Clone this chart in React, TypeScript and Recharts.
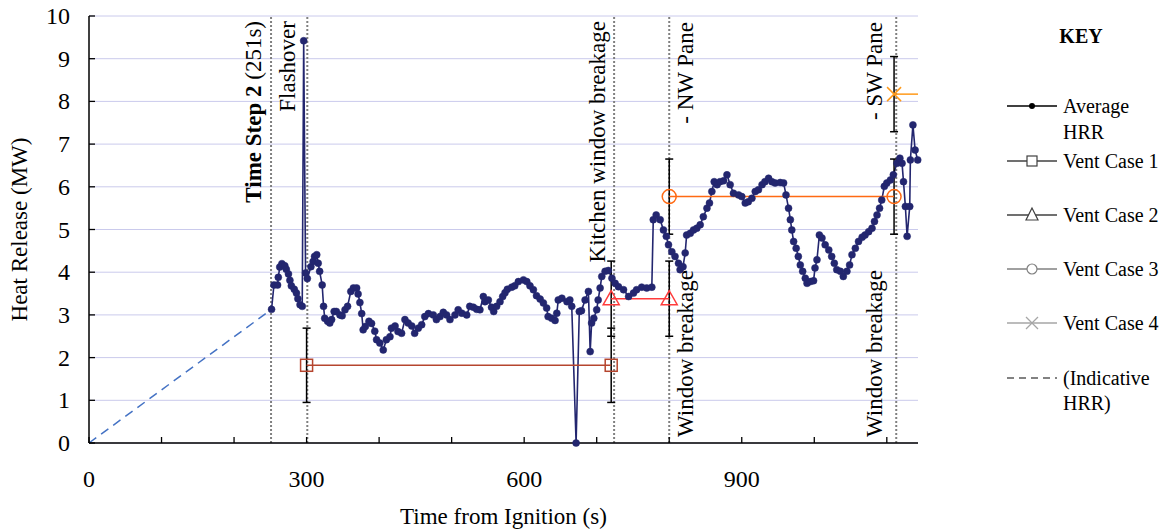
import React from 'react';
import {
  LineChart,
  Line,
  XAxis,
  YAxis,
  CartesianGrid,
  ReferenceLine,
  ErrorBar,
  Customized,
  Label,
} from 'recharts';

const FONT = "'Liberation Serif', 'Times New Roman', serif";
const NAVY = '#23266F';

// ---------- data ----------
const avgTime = [
  251.7, 255, 260, 261, 263, 266, 270, 272, 275, 277, 279, 283, 286, 288, 291, 294, 296, 298.6, 301,
  306, 309, 311, 314, 316, 318, 321.5, 323.4, 325, 329, 332, 334.5, 338, 341, 346, 349, 353, 356.5,
  361, 364.5, 369, 371, 373.5, 376, 378, 381, 386, 389.6, 394, 396.5, 401, 405.7, 410, 415, 417, 422,
  426, 431, 435.6, 440, 445, 449, 454, 458.7, 463, 468, 474.7, 479, 484, 488.5, 493, 497.7, 504.6,
  509, 514, 520.8, 525, 530, 534.6, 539, 543.7, 546, 550.6, 555, 558, 562, 566.7, 570.4, 573.6, 576.8,
  582.8, 587, 592, 599, 603.6, 608, 612.7, 617, 622, 626.5, 631, 633, 638, 642.6, 645, 647, 652, 659,
  663, 665.6, 671.6, 676, 679, 684, 688.6, 691, 693, 696, 700, 702, 704.7, 707, 711.6, 716, 721,
  725.4, 730, 737, 744, 750.7, 755, 762, 769, 776, 778, 782, 787.5, 792, 796, 799, 803.6, 808, 812.8,
  815, 819, 822, 824, 829, 833.5, 838, 842.7, 847, 852, 855.5, 858.8, 862, 866, 870, 875, 879.6, 884,
  888.6, 895.6, 900, 904.8, 909, 914, 918.6, 923, 928, 932, 937, 941.6, 946, 953, 957.7, 961, 964.5,
  967, 969, 971.5, 975, 978, 980.7, 984, 987.6, 990, 994.5, 999, 1001, 1003.7, 1007, 1010.6, 1015,
  1020, 1024, 1027.6, 1031, 1036, 1040, 1045, 1048.7, 1052, 1056.6, 1061, 1066, 1070, 1075, 1079.6,
  1083, 1086.5, 1090, 1093, 1096.6, 1100, 1105, 1109, 1114, 1118, 1121, 1123, 1125.6, 1128, 1131.6,
  1132.5, 1136, 1139, 1142.6,
];
const avgHRR = [
  3.13, 3.7, 3.7, 3.88, 4.12, 4.2, 4.15, 4.07, 3.96, 3.81, 3.68, 3.6, 3.51, 3.38, 3.24, 3.2, 9.42, 3.98, 3.85,
  4.13, 4.25, 4.37, 4.41, 4.21, 4.02, 3.7, 3.2, 2.92, 2.85, 2.81, 2.89, 3.08, 3.08, 3.0, 2.98, 3.12, 3.2,
  3.55, 3.63, 3.63, 3.49, 3.29, 3.03, 2.65, 2.73, 2.85, 2.8, 2.62, 2.42, 2.34, 2.18, 2.42, 2.49, 2.69, 2.74,
  2.61, 2.57, 2.89, 2.81, 2.74, 2.57, 2.69, 2.77, 2.96, 3.03, 3.0, 2.89, 2.96, 3.06, 3.0, 2.89, 3.0,
  3.12, 3.04, 3.0, 3.2, 3.18, 3.13, 3.12, 3.43, 3.31, 3.35, 3.18, 3.08, 3.2, 3.31, 3.43, 3.52, 3.6,
  3.65, 3.68, 3.78, 3.82, 3.78, 3.68, 3.59, 3.45, 3.37, 3.28, 3.16, 2.96, 2.92, 2.87, 3.04, 3.35, 3.39, 3.31,
  3.35, 3.2, 0, 3.08, 3.1, 3.35, 3.55, 2.14, 2.81, 2.92, 3.12, 3.35, 3.63, 3.9, 4.02, 4.04, 3.86,
  3.74, 3.66, 3.59, 3.43, 3.51, 3.59, 3.65, 3.63, 3.65, 5.23, 5.34, 5.23, 4.99, 4.84, 4.64, 4.48, 4.37, 4.21,
  4.06, 4.13, 4.45, 4.87, 4.91, 4.99, 5.03, 5.11, 5.3, 5.5, 5.62, 5.89, 6.12, 6.05, 6.12, 6.14, 6.28, 6.05,
  5.85, 5.81, 5.77, 5.62, 5.65, 5.73, 5.89, 5.93, 6.05, 6.12, 6.2, 6.12, 6.09, 6.1, 6.09, 5.81, 5.5,
  5.23, 4.99, 4.72, 4.56, 4.37, 4.17, 4.02, 3.86, 3.74, 3.78, 3.8, 4.1, 4.29, 4.87, 4.8, 4.64,
  4.52, 4.37, 4.21, 4.06, 4.02, 3.9, 4.02, 4.17, 4.41, 4.56, 4.72, 4.82, 4.87, 4.95, 5.03,
  5.19, 5.34, 5.5, 5.69, 6.01, 6.09, 6.16, 6.28, 6.55, 6.67, 6.55, 6.12, 5.54, 4.84, 5.54,
  6.63, 7.45, 6.86, 6.63,
];

const indicativeTime = [0, 251.7];
const indicativeHRR = [0, 3.13];

const vent1Time = [300, 720];
const vent1HRR = [1.82, 1.82];
const vent1Err = [0.87, 0.87];

const vent2Time = [720, 800];
const vent2HRR = [3.38, 3.38];
const vent2Err = [0.88, 0.88];

const vent3Time = [800, 1110];
const vent3HRR = [5.77, 5.77];
const vent3Err = [0.88, 0.88];

const vent4Time = [1110, 1143];
const vent4HRR = [8.17, 8.17];
const vent4Err = [0.88, null];

const X_MAX = 1143;
const xTicks = [0, 100, 200, 300, 400, 500, 600, 700, 800, 900, 1000, 1100];
const xLabelTicks = [0, 300, 600, 900];
const yTicks = [0, 1, 2, 3, 4, 5, 6, 7, 8, 9, 10];

const eventTimes = [251, 301, 724, 800, 1113];

// ---------- assembled series ----------
const avgData = avgTime.map((t, i) => ({ t, v: avgHRR[i] }));
const indicativeData = indicativeTime.map((t, i) => ({ t, v: indicativeHRR[i] }));
const vent1Data = vent1Time.map((t, i) => ({ t, v: vent1HRR[i], e: vent1Err[i] }));
const vent2Data = vent2Time.map((t, i) => ({ t, v: vent2HRR[i], e: vent2Err[i] }));
const vent3Data = vent3Time.map((t, i) => ({ t, v: vent3HRR[i], e: vent3Err[i] }));
const vent4Data = vent4Time.map((t, i) => ({ t, v: vent4HRR[i], e: vent4Err[i] }));

// ---------- colours ----------
const C1 = '#B5452E';
const C2 = '#FF3B3B';
const C3 = '#FF6A13';
const C4 = '#FF9A1A';

// ---------- markers ----------
const squareDot = (color: string) => (p: any) =>
  <rect key={`sq${p.index}`} x={p.cx - 6} y={p.cy - 6} width={12} height={12} fill="none" stroke={color} strokeWidth={1.5} />;
const triDot = (color: string) => (p: any) =>
  <polygon key={`tr${p.index}`} points={`${p.cx},${p.cy - 8} ${p.cx - 8},${p.cy + 6} ${p.cx + 8},${p.cy + 6}`} fill="none" stroke={color} strokeWidth={1.5} />;
const circDot = (color: string) => (p: any) =>
  <circle key={`ci${p.index}`} cx={p.cx} cy={p.cy} r={7} fill="none" stroke={color} strokeWidth={1.5} />;
const xDot = (color: string) => (p: any) =>
  p.index === 0 ? (
    <g key={`x${p.index}`}>
      <line x1={p.cx - 7} y1={p.cy - 7} x2={p.cx + 7} y2={p.cy + 7} stroke={color} strokeWidth={1.5} />
      <line x1={p.cx - 7} y1={p.cy + 7} x2={p.cx + 7} y2={p.cy - 7} stroke={color} strokeWidth={1.5} />
    </g>
  ) : (
    <g key={`x${p.index}`} />
  );

// ---------- ticks ----------
const XTick = (props: any) => {
  const { x, y, payload } = props;
  const show = xLabelTicks.includes(payload.value);
  return (
    <g>
      <line x1={x} x2={x} y1={y} y2={y - 6} stroke="#000" strokeWidth={1.3} />
      {show && (
        <text x={x} y={y + 36} textAnchor="middle" dominantBaseline="central" fontFamily={FONT} fontSize={24} fill="#000">
          {payload.value}
        </text>
      )}
    </g>
  );
};

const YTick = (props: any) => {
  const { x, y, payload } = props;
  return (
    <g>
      <line x1={x} x2={x + 6} y1={y} y2={y} stroke="#000" strokeWidth={1.3} />
      <text x={x - 19} y={y} textAnchor="end" dominantBaseline="central" fontFamily={FONT} fontSize={24} fill="#000">
        {payload.value}
      </text>
    </g>
  );
};

// ---------- event labels ----------
const topLabel = (text: React.ReactNode, dx: number) => (p: any) => {
  const vb = p.viewBox;
  return (
    <text
      transform={`translate(${vb.x + dx},${vb.y + 5}) rotate(-90)`}
      textAnchor="end"
      dominantBaseline="central"
      fontFamily={FONT}
      fontSize={23}
      fill="#000"
    >
      {text}
    </text>
  );
};
const twoLabels = (top: string, bottom: string, dx: number) => (p: any) => {
  const vb = p.viewBox;
  return (
    <g>
      <text
        transform={`translate(${vb.x + dx},${vb.y + 6}) rotate(-90)`}
        textAnchor="end"
        dominantBaseline="central"
        fontFamily={FONT}
        fontSize={23}
        fill="#000"
      >
        {top}
      </text>
      <text
        transform={`translate(${vb.x + dx},${vb.y + vb.height - 6}) rotate(-90)`}
        textAnchor="start"
        dominantBaseline="central"
        fontFamily={FONT}
        fontSize={23}
        fill="#000"
      >
        {bottom}
      </text>
    </g>
  );
};

// ---------- key ----------
const KeyLegend = () => {
  const lx1 = 1007;
  const lx2 = 1057;
  const mx = 1032;
  const tx = 1063;
  const txt = (x: number, y: number, s: string, bold = false) => (
    <text x={x} y={y} dominantBaseline="central" fontFamily={FONT} fontSize={20} fontWeight={bold ? 'bold' : 'normal'} fill="#000">
      {s}
    </text>
  );
  return (
    <g>
      <text x={1081} y={36} textAnchor="middle" dominantBaseline="central" fontFamily={FONT} fontSize={20} fontWeight="bold" fill="#000">
        KEY
      </text>
      <line x1={lx1} x2={lx2} y1={106} y2={106} stroke="#000" strokeWidth={1.3} />
      <circle cx={mx} cy={106} r={3} fill="#000" />
      {txt(tx, 106, 'Average')}
      {txt(tx, 132, 'HRR')}

      <line x1={lx1} x2={lx2} y1={161} y2={161} stroke="#404040" strokeWidth={1.3} />
      <rect x={mx - 5} y={156} width={10} height={10} fill="#fff" stroke="#404040" strokeWidth={1.2} />
      {txt(tx, 161, 'Vent Case 1')}

      <line x1={lx1} x2={lx2} y1={215} y2={215} stroke="#404040" strokeWidth={1.3} />
      <polygon points={`${mx},${208} ${mx - 6},${220} ${mx + 6},${220}`} fill="#fff" stroke="#404040" strokeWidth={1.2} />
      {txt(tx, 215, 'Vent Case 2')}

      <line x1={lx1} x2={lx2} y1={269} y2={269} stroke="#808080" strokeWidth={1.3} />
      <circle cx={mx} cy={269} r={5} fill="#fff" stroke="#808080" strokeWidth={1.2} />
      {txt(tx, 269, 'Vent Case 3')}

      <line x1={lx1} x2={lx2} y1={323} y2={323} stroke="#A6A6A6" strokeWidth={1.3} />
      <line x1={mx - 6} x2={mx + 6} y1={317} y2={329} stroke="#A6A6A6" strokeWidth={1.2} />
      <line x1={mx - 6} x2={mx + 6} y1={329} y2={317} stroke="#A6A6A6" strokeWidth={1.2} />
      {txt(tx, 323, 'Vent Case 4')}

      <line x1={lx1} x2={lx2} y1={378} y2={378} stroke="#595959" strokeWidth={1.3} strokeDasharray="7 5" />
      {txt(tx, 378, '(Indicative')}
      {txt(tx, 403, 'HRR)')}
    </g>
  );
};

export default function App() {
  return (
    <div style={{ position: 'absolute', left: 0, top: 0, width: 1169, height: 531, background: '#fff' }}>
      <LineChart width={1169} height={531} margin={{ top: 16, right: 251, left: 0, bottom: 0 }}>
        <CartesianGrid vertical={false} stroke="#CACAEC" strokeWidth={1} />
        <XAxis
          type="number"
          dataKey="t"
          domain={[0, X_MAX]}
          ticks={xTicks}
          allowDuplicatedCategory={false}
          height={88}
          tickSize={0}
          tickMargin={0}
          tickLine={false}
          tick={<XTick />}
          axisLine={{ stroke: '#000', strokeWidth: 1.5 }}
          interval={0}
        >
          <Label
            content={(p: any) => {
              const vb = p.viewBox;
              return (
                <text x={vb.x + vb.width / 2} y={vb.y + 73} textAnchor="middle" dominantBaseline="central" fontFamily={FONT} fontSize={23} fill="#000">
                  Time from Ignition (s)
                </text>
              );
            }}
          />
        </XAxis>
        <YAxis
          type="number"
          domain={[0, 10]}
          ticks={yTicks}
          width={89}
          tickSize={0}
          tickMargin={0}
          tickLine={false}
          tick={<YTick />}
          axisLine={{ stroke: '#000', strokeWidth: 1.5 }}
          interval={0}
        >
          <Label
            content={(p: any) => {
              const vb = p.viewBox;
              return (
                <text
                  transform={`translate(${vb.x + 19},${vb.y + vb.height / 2}) rotate(-90)`}
                  textAnchor="middle"
                  dominantBaseline="central"
                  fontFamily={FONT}
                  fontSize={23}
                  fill="#000"
                >
                  Heat Release (MW)
                </text>
              );
            }}
          />
        </YAxis>

        <ReferenceLine
          x={eventTimes[0]}
          stroke="#808080"
          strokeWidth={2}
          strokeDasharray="2 2"
          label={topLabel(
            <>
              <tspan fontWeight="bold">Time Step 2</tspan>
              <tspan>{'  (251s)'}</tspan>
            </>,
            -18
          )}
        />
        <ReferenceLine x={eventTimes[1]} stroke="#808080" strokeWidth={2} strokeDasharray="2 2" label={topLabel('Flashover', -20)} />
        <ReferenceLine
          x={eventTimes[2]}
          stroke="#808080"
          strokeWidth={2}
          strokeDasharray="2 2"
          label={topLabel('Kitchen window breakage', -17)}
        />
        <ReferenceLine
          x={eventTimes[3]}
          stroke="#808080"
          strokeWidth={2}
          strokeDasharray="2 2"
          label={twoLabels('- NW Pane', 'Window breakage', 16)}
        />
        <ReferenceLine
          x={eventTimes[4]}
          stroke="#808080"
          strokeWidth={2}
          strokeDasharray="2 2"
          label={twoLabels('- SW Pane', 'Window breakage', -22)}
        />

        <Line
          data={indicativeData}
          dataKey="v"
          stroke="#4472C4"
          strokeWidth={1.5}
          strokeDasharray="9 6"
          dot={false}
          isAnimationActive={false}
        />
        <Line
          data={avgData}
          dataKey="v"
          stroke={NAVY}
          strokeWidth={1.6}
          dot={{ r: 3.5, fill: NAVY, stroke: NAVY, strokeWidth: 0.5 }}
          isAnimationActive={false}
        />
        <Line data={vent1Data} dataKey="v" stroke={C1} strokeWidth={1.5} dot={squareDot(C1)} isAnimationActive={false}>
          <ErrorBar dataKey="e" width={4} stroke="#000" strokeWidth={1.5} direction="y" />
        </Line>
        <Line data={vent2Data} dataKey="v" stroke={C2} strokeWidth={1.5} dot={triDot(C2)} isAnimationActive={false}>
          <ErrorBar dataKey="e" width={4} stroke="#000" strokeWidth={1.5} direction="y" />
        </Line>
        <Line data={vent3Data} dataKey="v" stroke={C3} strokeWidth={1.5} dot={circDot(C3)} isAnimationActive={false}>
          <ErrorBar dataKey="e" width={4} stroke="#000" strokeWidth={1.5} direction="y" />
        </Line>
        <Line data={vent4Data} dataKey="v" stroke={C4} strokeWidth={1.5} dot={xDot(C4)} isAnimationActive={false}>
          <ErrorBar dataKey="e" width={4} stroke="#000" strokeWidth={1.5} direction="y" />
        </Line>
        <Customized component={KeyLegend} />
      </LineChart>
    </div>
  );
}
